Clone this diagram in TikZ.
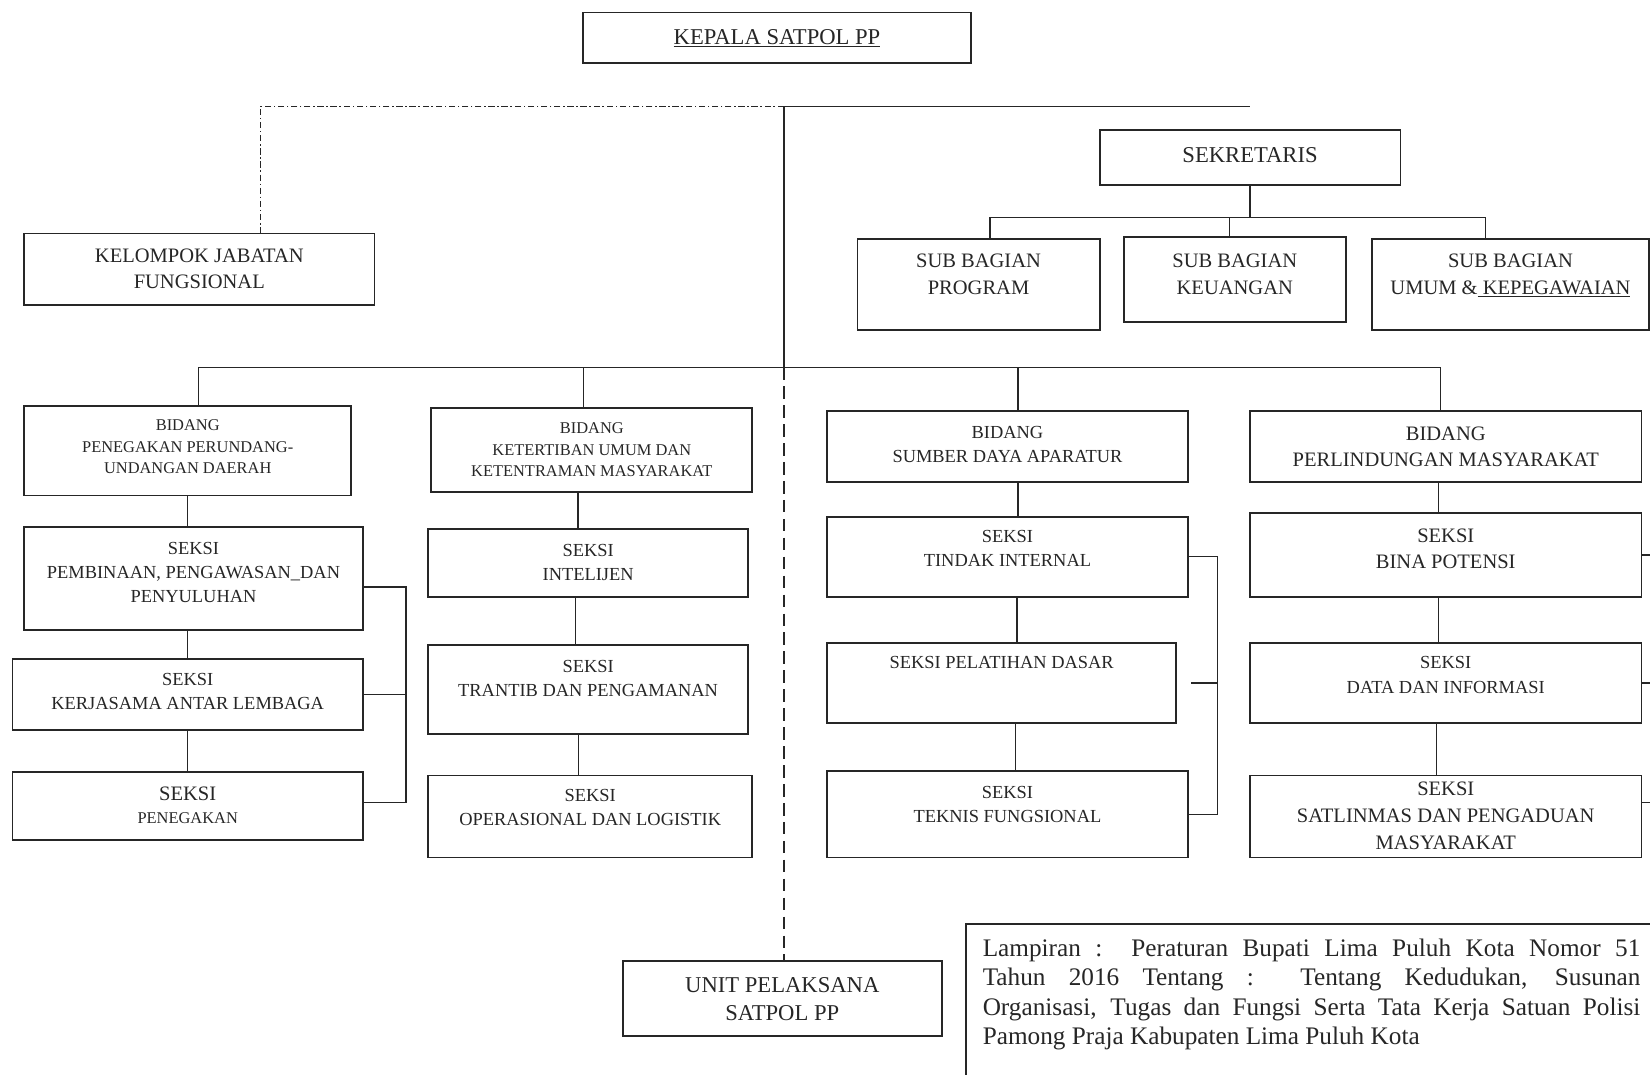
\documentclass[tikz,border=0pt]{standalone}
\usepackage{fontspec}
\setmainfont{Liberation Serif}
\usepackage{tikz}
\usetikzlibrary{positioning}

\newcommand{\orgcell}[4]{\parbox[c][#2pt][t]{#1pt}{\centering\vspace*{#3pt}#4\par}}
\newcommand{\fontbig}{\fontsize{21.5}{27}\selectfont}
\newcommand{\fontsub}{\fontsize{19.5}{25}\selectfont}
\newcommand{\fontmed}{\fontsize{17.5}{23}\selectfont}
\newcommand{\fontsmall}{\fontsize{15.6}{20.5}\selectfont}

\begin{document}
\begin{tikzpicture}[x=1pt, y=-1pt, line width=1.3pt, color=black!85,
  box/.style={draw, line width=1.8pt, inner sep=0pt, anchor=north west},
  dashdot/.style={dash pattern=on 6pt off 2.5pt on 1.5pt off 2.5pt},
  longdash/.style={dash pattern=on 12pt off 6pt}]

  \useasboundingbox (0,0) rectangle (1568,1021);

  % Define nodes
  \node[box] (kepala) at (553,11) {\orgcell{369}{48}{16}{\fontbig\underline{KEPALA SATPOL PP}}};
  \node[box] (sekretaris) at (1044,123) {\orgcell{286}{52}{16}{\fontbig SEKRETARIS}};
  \node[box] (kelompok) at (22,221) {\orgcell{333}{68}{14.6}{\fontsub KELOMPOK JABATAN\\FUNGSIONAL}};
  \node[box] (program) at (814,226) {\orgcell{230}{87}{14.6}{\fontsub SUB BAGIAN\\PROGRAM}};
  \node[box] (keuangan) at (1067,224) {\orgcell{211}{81}{16.6}{\fontsub SUB BAGIAN\\KEUANGAN}};
  \node[box] (umum) at (1303,226) {\orgcell{263}{87}{14.6}{\fontsub SUB BAGIAN\\UMUM \&\underline{\ KEPEGAWAIAN}}};

  \node[box] (penegakan) at (22,385) {\orgcell{311}{85}{12.9}{\fontsmall BIDANG\\PENEGAKAN PERUNDANG-\\UNDANGAN DAERAH}};
  \node[box] (pembinaan) at (22,500) {\orgcell{322}{98}{14.2}{\fontmed SEKSI\\PEMBINAAN, PENGAWASAN\_DAN\\PENYULUHAN}};
  \node[box] (kerjasama) at (11,625) {\orgcell{333}{68}{14.2}{\fontmed SEKSI\\KERJASAMA ANTAR LEMBAGA}};
  \node[box] (seksipenegakan) at (11,733) {\orgcell{333}{64}{13.6}{{\fontsub SEKSI\par}\fontsize{15.6}{21.8}\selectfont PENEGAKAN}};

  \node[box] (ketertiban) at (409,387) {\orgcell{305}{80}{13.9}{\fontsmall BIDANG\\KETERTIBAN UMUM DAN\\KETENTRAMAN MASYARAKAT}};
  \node[box] (intelijen) at (406,502) {\orgcell{304}{64}{14.2}{\fontmed SEKSI\\INTELIJEN}};
  \node[box] (trantib) at (406,612) {\orgcell{304}{85}{14.2}{\fontmed SEKSI\\TRANTIB DAN PENGAMANAN}};
  \node[box] (operasional) at (406,736) {\orgcell{308}{78}{13.2}{\fontmed SEKSI\\OPERASIONAL DAN LOGISTIK}};

  \node[box] (sda) at (785,390) {\orgcell{343}{67}{14.2}{\fontmed BIDANG\\SUMBER DAYA APARATUR}};
  \node[box] (tindak) at (785,490) {\orgcell{343}{76}{13.2}{\fontmed SEKSI\\TINDAK INTERNAL}};
  \node[box] (pelatihan) at (785,610) {\orgcell{332}{76}{13.2}{\fontmed SEKSI PELATIHAN DASAR}};
  \node[box] (teknis) at (785,732) {\orgcell{343}{82}{14.2}{\fontmed SEKSI\\TEKNIS FUNGSIONAL}};

  \node[box] (perlindungan) at (1187,390) {\orgcell{372}{67}{14.6}{\fontsub BIDANG\\PERLINDUNGAN MASYARAKAT}};
  \node[box] (bina) at (1187,487) {\orgcell{372}{79}{14.6}{\fontsub SEKSI\\BINA POTENSI}};
  \node[box] (data) at (1187,610) {\orgcell{372}{76}{13.2}{\fontmed SEKSI\\DATA DAN INFORMASI}};
  \node[box] (satlinmas) at (1187,736) {\orgcell{372}{78}{6.6}{\fontsize{19.5}{25.5}\selectfont SEKSI\\SATLINMAS DAN PENGADUAN\\MASYARAKAT}};

  \node[box] (unit) at (591,912) {\orgcell{303}{72}{15.9}{\fontbig UNIT PELAKSANA\\SATPOL PP}};
  \node[box, inner xsep=16pt] (lampiran) at (917,877) {\parbox[c][160pt][t]{625pt}{\vspace*{14pt}\fontsize{24}{28}\selectfont
    \makebox[625pt][s]{Lampiran :\ \ Peraturan Bupati Lima Puluh Kota Nomor 51}\\
    \makebox[625pt][s]{Tahun 2016 Tentang :\ \ Tentang Kedudukan, Susunan}\\
    \makebox[625pt][s]{Organisasi, Tugas dan Fungsi Serta Tata Kerja Satuan Polisi}\\
    Pamong Praja Kabupaten Lima Puluh Kota\par}};

  % Connect the nodes
  \coordinate (hub) at (745,101);
  \coordinate (bar) at (745,349);
  \coordinate (edge) at (1568,0);

  \draw (hub) -- (hub -| sekretaris.north);
  \draw[dashdot] (hub) -| ([xshift=58]kelompok.north);
  \draw (hub) -- (bar);
  \draw[longdash] (bar) -- (bar |- unit.north);

  \draw (sekretaris.south) -- ++(0,30) coordinate (sekbar);
  \draw ([xshift=11]program.north) |- (sekbar) -| ([xshift=-24]umum.north);
  \draw ([xshift=-5]keuangan.north) -- ([xshift=-5]keuangan.north |- sekbar);

  \draw ([xshift=10]penegakan.north) |- (bar) -| ([xshift=-5]perlindungan.north);
  \draw ([xshift=-8]ketertiban.north) -- ([xshift=-8]ketertiban.north |- bar);
  \draw ([xshift=10]sda.north) -- ([xshift=10]sda.north |- bar);

  \draw (penegakan.south) -- (penegakan.south |- pembinaan.north);
  \draw (kerjasama.north) -- (kerjasama.north |- pembinaan.south);
  \draw (kerjasama.south) -- (kerjasama.south |- seksipenegakan.north);
  \draw ([yshift=-8]pembinaan.east) -- ++(40,0) coordinate (brkA) |- ([yshift=3]seksipenegakan.east);
  \draw (kerjasama.east) -- (kerjasama.east -| brkA);

  \draw ([xshift=-13]ketertiban.south) -- ([xshift=-13]ketertiban.south |- intelijen.north);
  \draw ([xshift=-12]intelijen.south) -- ([xshift=-12]intelijen.south |- trantib.north);
  \draw ([xshift=-9]trantib.south) -- ([xshift=-9]trantib.south |- operasional.north);

  \draw ([xshift=10]sda.south) -- ([xshift=10]sda.south |- tindak.north);
  \draw ([xshift=9]tindak.south) -- ([xshift=9]tindak.south |- pelatihan.north);
  \draw ([xshift=13]pelatihan.south) -- ([xshift=13]pelatihan.south |- teknis.north);
  \draw (tindak.east) -- ++(27,0) coordinate (brkC) |- (teknis.east);
  \draw ([xshift=13]pelatihan.east) -- (pelatihan.east -| brkC);

  \draw ([xshift=-7]perlindungan.south) -- ([xshift=-7]perlindungan.south |- bina.north);
  \draw ([xshift=-7]bina.south) -- ([xshift=-7]bina.south |- data.north);
  \draw ([xshift=-9]data.south) -- ([xshift=-9]data.south |- satlinmas.north);
  \draw (bina.east) -- (bina.east -| edge);
  \draw (data.east) -- (data.east -| edge);
  \draw ([yshift=13]satlinmas.east) -- ([yshift=13]satlinmas.east -| edge);

\end{tikzpicture}
\end{document}
